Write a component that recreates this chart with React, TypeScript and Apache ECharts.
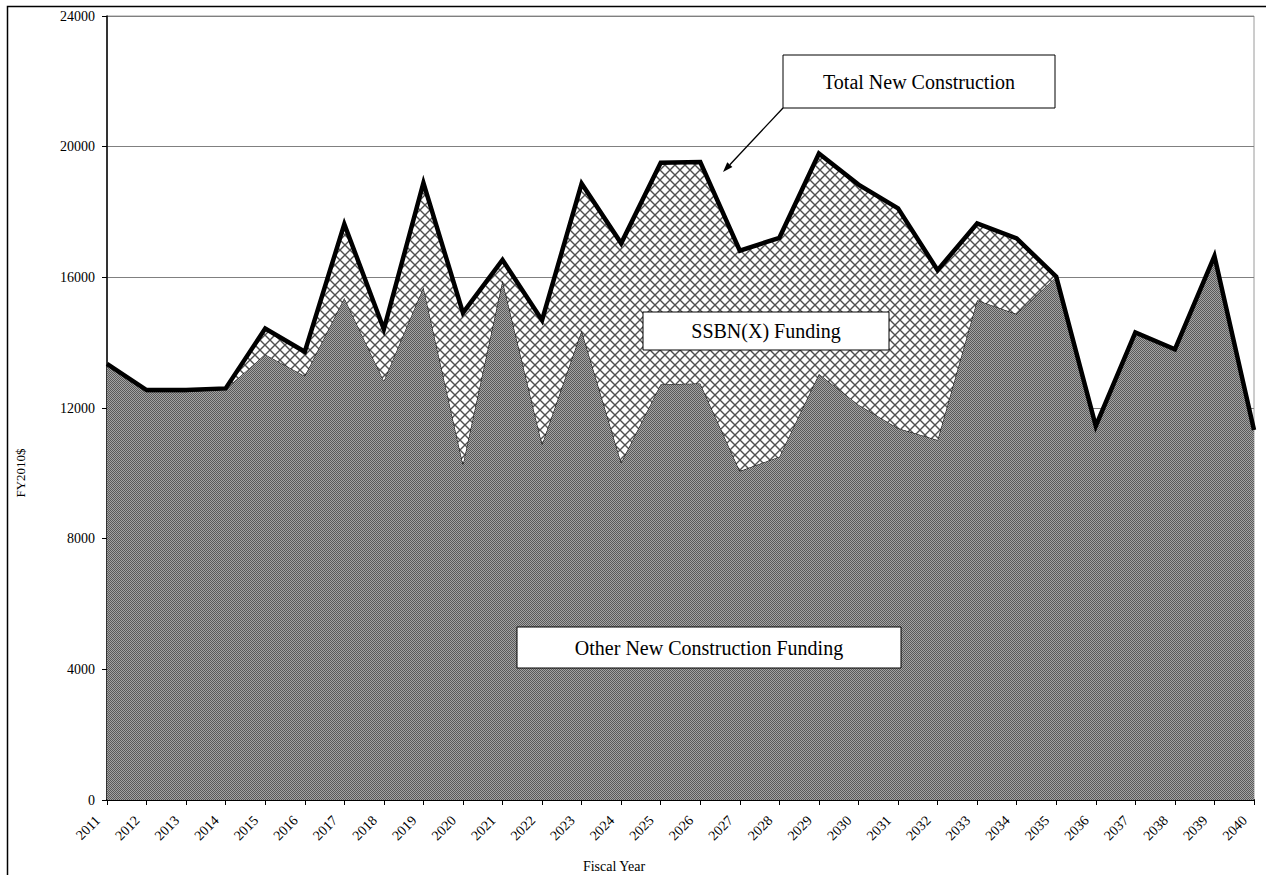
import React, { useEffect, useRef } from "react";
import * as echarts from "echarts";

const years = [
  "2011", "2012", "2013", "2014", "2015", "2016", "2017", "2018", "2019", "2020",
  "2021", "2022", "2023", "2024", "2025", "2026", "2027", "2028", "2029", "2030",
  "2031", "2032", "2033", "2034", "2035", "2036", "2037", "2038", "2039", "2040",
];

const totalNewConstruction = [
  13350, 12550, 12550, 12600, 14430, 13720, 17630, 14410, 18890, 14910,
  16530, 14690, 18870, 17040, 19510, 19530, 16815, 17210, 19790, 18840,
  18110, 16220, 17650, 17190, 16020, 11450, 14315, 13795, 16650, 11325,
];

const otherNewConstruction = [
  13300, 12500, 12500, 12580, 13640, 12980, 15370, 12830, 15700, 10280,
  15900, 10890, 14370, 10330, 12730, 12750, 10070, 10510, 13040, 12100,
  11380, 11020, 15300, 14875, 16020, 11450, 14315, 13795, 16650, 11325,
];

const ssbnFunding = totalNewConstruction.map((t, i) => Math.max(0, t - otherNewConstruction[i]));

const yTicks = [0, 4000, 8000, 12000, 16000, 20000, 24000];

const FONT = '"Liberation Serif", "Times New Roman", serif';

function makeCrossHatch() {
  const s = 10;
  const c = document.createElement("canvas");
  c.width = s;
  c.height = s;
  const ctx = c.getContext("2d")!;
  ctx.fillStyle = "#ffffff";
  ctx.fillRect(0, 0, s, s);
  ctx.strokeStyle = "#505050";
  ctx.lineWidth = 1.4;
  ctx.beginPath();
  ctx.moveTo(-1, -1);
  ctx.lineTo(s + 1, s + 1);
  ctx.moveTo(s + 1, -1);
  ctx.lineTo(-1, s + 1);
  ctx.stroke();
  return c;
}

function makeGrey() {
  const c = document.createElement("canvas");
  c.width = 2;
  c.height = 2;
  const ctx = c.getContext("2d")!;
  ctx.fillStyle = "#5a5a5a";
  ctx.fillRect(0, 0, 2, 2);
  ctx.fillStyle = "#a4a4a4";
  ctx.fillRect(1, 0, 1, 1);
  ctx.fillRect(0, 1, 1, 1);
  return c;
}

function labelBox(x: number, y: number, w: number, h: number, text: string) {
  return [
    {
      type: "rect",
      z: 100,
      shape: { x, y, width: w, height: h },
      style: { fill: "#ffffff", stroke: "#000000", lineWidth: 1 },
    },
    {
      type: "text",
      z: 101,
      x: x + w / 2,
      y: y + h / 2,
      style: {
        text,
        fill: "#000000",
        fontSize: 20,
        fontFamily: FONT,
        align: "center",
        verticalAlign: "middle",
      },
    },
  ];
}

export default function App() {
  const ref = useRef<HTMLDivElement>(null);

  useEffect(() => {
    if (!ref.current) return;
    const chart = echarts.init(ref.current, null, { renderer: "svg" });
    const hatch = makeCrossHatch();
    const grey = makeGrey();

    const tip = [723, 172];
    const start = [783, 108];
    const dx = tip[0] - start[0];
    const dy = tip[1] - start[1];
    const len = Math.sqrt(dx * dx + dy * dy);
    const ux = dx / len;
    const uy = dy / len;
    const bx = tip[0] - 10 * ux;
    const by = tip[1] - 10 * uy;
    const px = -uy;
    const py = ux;

    chart.setOption({
      animation: false,
      backgroundColor: "#ffffff",
      textStyle: { fontFamily: FONT, color: "#000" },
      grid: {
        left: 107,
        right: 12,
        top: 16,
        bottom: 75,
        show: true,
        borderColor: "#9a9a9a",
        borderWidth: 1,
        backgroundColor: "transparent",
      },
      xAxis: {
        type: "category",
        data: years,
        boundaryGap: false,
        axisLine: { show: true, lineStyle: { color: "#000", width: 2 } },
        axisTick: { show: true, inside: false, length: 5, alignWithLabel: true, lineStyle: { color: "#000" } },
        axisLabel: {
          rotate: 45,
          interval: 0,
          margin: 9,
          padding: [0, 13, 0, 0],
          fontSize: 14,
          fontFamily: FONT,
          color: "#000",
        },
        splitLine: { show: false },
      },
      yAxis: {
        type: "value",
        min: yTicks[0],
        max: yTicks[yTicks.length - 1],
        interval: 4000,
        axisLine: { show: true, lineStyle: { color: "#000", width: 1.5 } },
        axisTick: { show: true, length: 5, lineStyle: { color: "#000" } },
        axisLabel: {
          margin: 12,
          fontSize: 14,
          fontFamily: FONT,
          color: "#000",
          formatter: (v: number) => String(v),
        },
        splitLine: { show: true, lineStyle: { color: "#808080", width: 1 } },
      },
      series: [
        {
          name: "Other New Construction Funding",
          type: "line",
          stack: "funding",
          data: otherNewConstruction,
          symbol: "none",
          lineStyle: { color: "#000", width: 1 },
          areaStyle: { color: { image: grey, repeat: "repeat", imageWidth: 2, imageHeight: 2 }, opacity: 1 },
          z: 2,
        },
        {
          name: "SSBN(X) Funding",
          type: "line",
          stack: "funding",
          data: ssbnFunding,
          symbol: "none",
          lineStyle: { width: 0 },
          areaStyle: { color: { image: hatch, repeat: "repeat", imageWidth: 10, imageHeight: 10 }, opacity: 1 },
          z: 3,
        },
        {
          name: "Total New Construction",
          type: "line",
          data: totalNewConstruction,
          symbol: "none",
          lineStyle: { color: "#000", width: 4.5, join: "miter" },
          z: 5,
        },
      ],
      graphic: [
        {
          type: "rect",
          z: 0,
          silent: true,
          shape: { x: 7.5, y: 6.5, width: 1300, height: 900 },
          style: { fill: "none", stroke: "#000", lineWidth: 1.5 },
        },
        ...labelBox(783, 55, 272, 53, "Total New Construction"),
        ...labelBox(643, 312, 246, 38, "SSBN(X) Funding"),
        ...labelBox(517, 627, 384, 41, "Other New Construction Funding"),
        {
          type: "line",
          z: 100,
          shape: { x1: start[0], y1: start[1], x2: bx, y2: by },
          style: { stroke: "#000", lineWidth: 1.3 },
        },
        {
          type: "polygon",
          z: 100,
          shape: {
            points: [
              [tip[0], tip[1]],
              [bx + 3.5 * px, by + 3.5 * py],
              [bx - 3.5 * px, by - 3.5 * py],
            ],
          },
          style: { fill: "#000" },
        },
        {
          type: "text",
          z: 100,
          x: 20,
          y: 473,
          rotation: Math.PI / 2,
          style: {
            text: "FY2010$",
            fill: "#000",
            fontSize: 13,
            fontFamily: FONT,
            align: "center",
            verticalAlign: "middle",
          },
        },
        {
          type: "text",
          z: 100,
          x: 614,
          y: 866,
          style: {
            text: "Fiscal Year",
            fill: "#000",
            fontSize: 14,
            fontFamily: FONT,
            align: "center",
            verticalAlign: "middle",
          },
        },
      ],
    });

    return () => chart.dispose();
  }, []);

  return (
    <div
      ref={ref}
      style={{ position: "absolute", left: 0, top: 0, width: 1266, height: 875 }}
    />
  );
}
